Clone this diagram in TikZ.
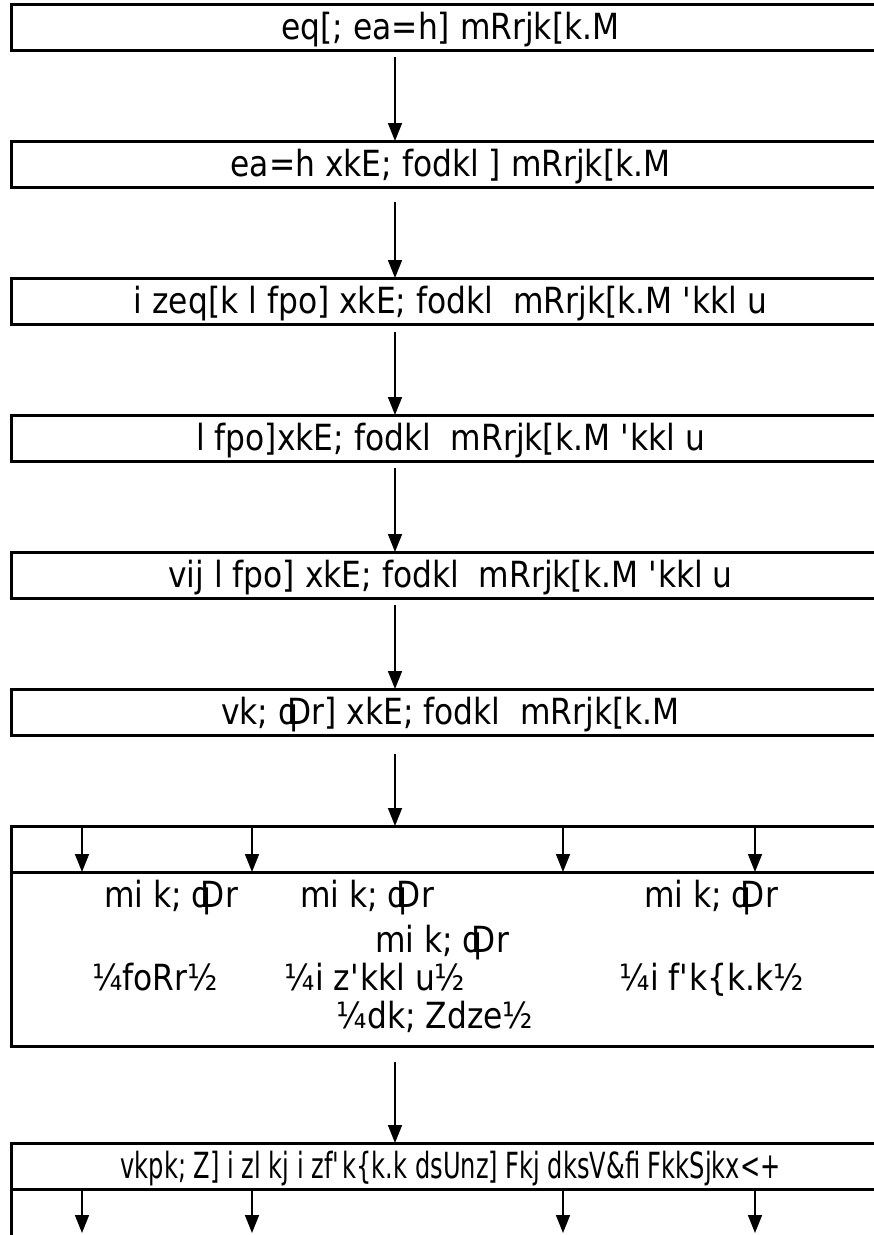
\documentclass[tikz,border=0pt]{standalone}
\usepackage{fontspec}
\setmainfont[FakeStretch=0.87]{DejaVu Sans}
\usetikzlibrary{arrows.meta, positioning}
\newcommand\tick{\textquotesingle}
\tikzset{
    >={Triangle[length=18pt, width=14pt]},
    % Boxes
    level/.style={rectangle, draw, line width=3pt, outer sep=0pt, inner sep=0pt,
                  minimum width=879pt, minimum height=46pt, text height=24pt, text depth=0pt,
                  font=\fontsize{36}{42}\selectfont},
    unit/.style={inner sep=0pt, anchor=base, font=\fontsize{36}{42}\selectfont},
    % Flow
    flow/.style={->, line width=1.5pt}
}

\begin{document}
\begin{tikzpicture}[x=1pt, y=-1pt, node distance=91pt]
\useasboundingbox (0,0) rectangle (874,1235);
\coordinate (spine) at (395,0);

% Chain of command
\node[level] (cm) at (450.5,27) {eq[; ea=h] mRrjk[k.M};
\node[level, below=of cm] (min) {ea=h xkE; fodkl ] mRrjk[k.M};
\node[level, below=of min] (ps) {i zeq[k l fpo] xkE; fodkl~ mRrjk[k.M \tick kkl u};
\node[level, below=of ps] (sec) {l fpo]xkE; fodkl~ mRrjk[k.M \tick kkl u};
\node[level, below=of sec] (asec) {vij l fpo] xkE; fodkl~ mRrjk[k.M \tick kkl u};
\node[level, below=of asec] (comm) {vk; q\kern-.3em Dr] xkE; fodkl~ mRrjk[k.M};

\draw[flow] ([yshift=-7pt]cm.south -| spine) -- (min.north -| spine);
\draw[flow] ([yshift=-15pt]min.south -| spine) -- (ps.north -| spine);
\draw[flow] ([yshift=-8pt]ps.south -| spine) -- (sec.north -| spine);
\draw[flow] ([yshift=-7pt]sec.south -| spine) -- (asec.north -| spine);
\draw[flow] ([yshift=-7pt]asec.south -| spine) -- (comm.north -| spine);

% Deputy commissioners
\node[level, below=of comm] (hub) {};
\node[level, minimum height=174pt, below=0pt of hub] (units) {};
\draw[flow] ([yshift=-19pt]comm.south -| spine) -- (hub.north -| spine);
\foreach \dx in {71,241,552,744}
    \draw[flow] ([xshift=\dx pt]hub.north west) -- ([xshift=\dx pt]hub.south west);

\node[unit] (u1) at (171,907) {mi k; q\kern-.3em Dr};
\node[unit] (u2) at (367,907) {mi k; q\kern-.3em Dr};
\node[unit] (u3) at (711,907) {mi k; q\kern-.3em Dr};
\node[unit] (u4) at (442,952) {mi k; q\kern-.3em Dr};
\node[unit] (w1) at (155,990) {¼foRr½};
\node[unit] (w2) at (375,990) {¼i z\tick kkl u½};
\node[unit] (w3) at (712,990) {¼i f\tick k\{k.k½};
\node[unit] (w4) at (435,1028) {¼dk; Zdze½};

% Training centre
\node[level, below=97pt of units] (ctr) {\addfontfeature{FakeStretch=0.67}vkpk; Z] i zl kj i zf\tick k\{k.k dsUnz] Fkj dksV\&fi FkkSjkx<+};
\node[level, minimum height=80pt, below=0pt of ctr] (tail) {};
\draw[flow] ([yshift=-16pt]units.south -| spine) -- (ctr.north -| spine);
\foreach \dx in {71,241,552,744}
    \draw[flow] ([xshift=\dx pt]tail.north west) -- ([xshift=\dx pt, yshift=-44pt]tail.north west);

\end{tikzpicture}
\end{document}
